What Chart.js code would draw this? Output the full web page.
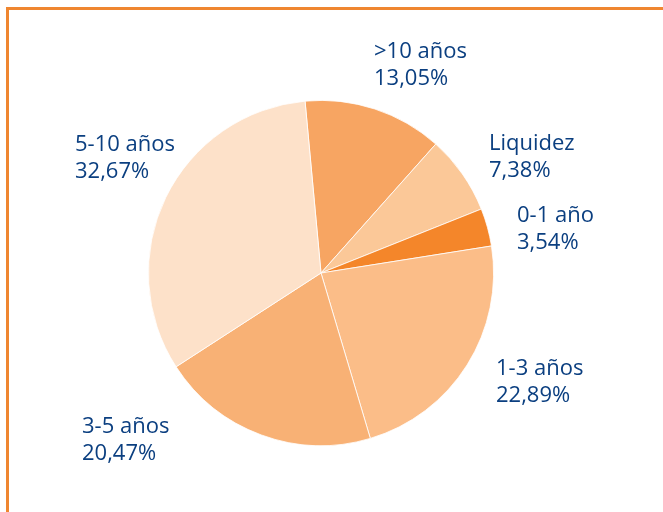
<!DOCTYPE html>
<html>
<head>
<meta charset="utf-8">
<script src="https://cdn.jsdelivr.net/npm/chart.js@4/dist/chart.umd.min.js"></script>
<style>
    html, body { margin: 0; padding: 0; background: #fff; }
    #wrap { position: relative; width: 663px; height: 512px; }
    #frame {
        position: absolute; left: 6px; top: 7px; right: 0; bottom: 0;
        border-top: 3px solid #ef8630; border-left: 3px solid #ef8630;
    }
    canvas { position: absolute; left: 0; top: 0; }
</style>
</head>
<body>
<div id="wrap">
    <div id="frame"></div>
    <canvas id="pie" width="663" height="512"></canvas>
</div>
<script>
    // slices, clockwise from the top
    var categories = ['>10 años', 'Liquidez', '0-1 año', '1-3 años', '3-5 años', '5-10 años'];
    var shares = [13.05, 7.38, 3.54, 22.89, 20.47, 32.67];
    var sliceColors = ['#f7a562', '#fbc898', '#f4862a', '#fbbd88', '#f8b175', '#fde1c9'];

    // where each label block starts (left edge, middle of first line)
    var labelSpots = [[374, 52], [489, 144], [517, 216], [496, 369], [82, 427], [75, 145]];

    function fmt(v) {
        return v.toFixed(2).replace('.', ',') + '%';
    }

    var labelPlugin = {
        id: 'sliceLabels',
        afterDatasetsDraw: function (chart) {
            var ctx = chart.ctx;
            ctx.save();
            ctx.fillStyle = '#0b3f80';
            ctx.font = '500 22px "Open Sans", sans-serif';
            ctx.textAlign = 'left';
            ctx.textBaseline = 'middle';
            chart.data.labels.forEach(function (lbl, i) {
                var p = labelSpots[i];
                ctx.fillText(lbl, p[0], p[1]);
                ctx.fillText(fmt(chart.data.datasets[0].data[i]), p[0], p[1] + 27);
            });
            ctx.restore();
        }
    };

    new Chart(document.getElementById('pie'), {
        type: 'pie',
        data: {
            labels: categories,
            datasets: [{
                data: shares,
                backgroundColor: sliceColors,
                borderColor: '#ffffff',
                borderWidth: 0.8,
            }]
        },
        options: {
            responsive: false,
            animation: false,
            rotation: -5.3,
            layout: { padding: { left: 148, right: 169, top: 100, bottom: 66 } },
            plugins: {
                legend: { display: false },
                tooltip: { enabled: false },
            },
        },
        plugins: [labelPlugin],
    });
</script>
</body>
</html>
